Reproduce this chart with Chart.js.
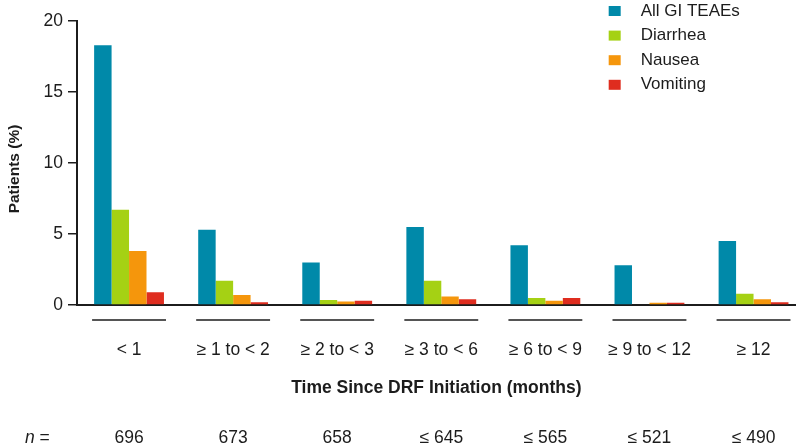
<!DOCTYPE html>
<html lang="en">
<head>
  <meta charset="UTF-8">
  <title>GI TEAEs by Time Since DRF Initiation</title>
  <script src="https://cdn.jsdelivr.net/npm/chart.js"></script>
  <style>
    html, body { margin: 0; padding: 0; background: #fff; }
    .chart-container { width: 797px; height: 448px; }
  </style>
</head>
<body>
  <div class="chart-container">
    <canvas id="myChart" width="797" height="448"></canvas>
  </div>

  <script>
    // Data
    const categories = ['< 1', '≥ 1 to < 2', '≥ 2 to < 3', '≥ 3 to < 6', '≥ 6 to < 9', '≥ 9 to < 12', '≥ 12'];
    const nValues = ['696', '673', '658', '≤ 645', '≤ 565', '≤ 521', '≤ 490'];
    const seriesNames = ['All GI TEAEs', 'Diarrhea', 'Nausea', 'Vomiting'];
    const allGiTeaes = [18.3, 5.3, 3.0, 5.5, 4.2, 2.8, 4.5];
    const diarrhea = [6.7, 1.7, 0.35, 1.7, 0.5, 0.0, 0.8];
    const nausea = [3.8, 0.7, 0.25, 0.6, 0.3, 0.15, 0.4];
    const vomiting = [0.9, 0.2, 0.3, 0.4, 0.5, 0.15, 0.2];
    const yTicks = [0, 5, 10, 15, 20];

    const seriesValues = [allGiTeaes, diarrhea, nausea, vomiting];
    const colors = ['#0089a9', '#a5d114', '#f5960c', '#df2d1f'];
    const ink = '#1c1c1c';
    const family = "'Liberation Sans', Arial, sans-serif";

    Chart.defaults.font.family = family;
    Chart.defaults.color = ink;

    // y title, underlines, "n =" row and legend are drawn here
    const extras = {
      id: 'extras',
      afterDraw(chart) {
        const { ctx, chartArea } = chart;
        const x = chart.scales.x;
        ctx.save();

        // y axis title (sits a bit below the axis middle in the original)
        ctx.save();
        ctx.translate(14.5, 169);
        ctx.rotate(-Math.PI / 2);
        ctx.fillStyle = ink;
        ctx.font = 'bold 15.5px ' + family;
        ctx.textAlign = 'center';
        ctx.textBaseline = 'middle';
        ctx.fillText('Patients (%)', 0, 0);
        ctx.restore();

        // short rules under each group
        ctx.strokeStyle = ink;
        ctx.lineWidth = 1.5;
        categories.forEach((c, i) => {
          const xa = x.getPixelForValue(i - 0.355);
          const xb = x.getPixelForValue(i + 0.355);
          ctx.beginPath();
          ctx.moveTo(xa, x.top + 15);
          ctx.lineTo(xb, x.top + 15);
          ctx.stroke();
        });

        // n row
        const ny = x.bottom - 10;
        ctx.fillStyle = ink;
        ctx.textBaseline = 'middle';
        ctx.textAlign = 'left';
        ctx.font = 'italic 17.5px ' + family;
        ctx.fillText('n', 25, ny);
        const nw = ctx.measureText('n').width;
        ctx.font = '17.5px ' + family;
        ctx.fillText(' =', 25 + nw, ny);
        ctx.textAlign = 'center';
        nValues.forEach((v, i) => ctx.fillText(v, x.getPixelForValue(i), ny));

        // legend
        ctx.textAlign = 'left';
        ctx.font = '17px ' + family;
        chart.data.datasets.forEach((ds, k) => {
          const cy = chartArea.top - 10 + k * 24.6;
          ctx.fillStyle = ds.backgroundColor;
          ctx.fillRect(chartArea.right - 187, cy - 5, 12, 10);
          ctx.fillStyle = ink;
          ctx.fillText(ds.label, chartArea.right - 155, cy);
        });
        ctx.restore();
      }
    };

    const ctx = document.getElementById('myChart').getContext('2d');
    const myChart = new Chart(ctx, {
      type: 'bar',
      data: {
        datasets: seriesNames.map((name, k) => ({
          label: name,
          data: seriesValues[k].map((v, i) => ({ x: i, y: v })),
          backgroundColor: colors[k],
          borderWidth: 0,
          categoryPercentage: 0.671,
          barPercentage: 1
        }))
      },
      options: {
        responsive: false,
        animation: false,
        devicePixelRatio: 1,
        layout: { padding: { top: 21, right: 0, bottom: 0, left: 0 } },
        plugins: {
          legend: { display: false },
          tooltip: { enabled: false }
        },
        scales: {
          x: {
            type: 'linear',
            min: -0.5,
            max: 6.405,
            offset: false,
            afterBuildTicks: (s) => { s.ticks = categories.map((c, i) => ({ value: i })); },
            afterFit: (s) => { s.height = 143; },
            border: { display: true, color: ink, width: 2 },
            grid: { display: false },
            ticks: {
              callback: (v) => categories[v],
              font: { size: 17.5 },
              padding: 26.5,
              maxRotation: 0,
              autoSkip: false
            },
            title: {
              display: true,
              text: 'Time Since DRF Initiation (months)',
              font: { size: 17.5, weight: 'bold' },
              padding: { top: 0, bottom: 49.5 }
            }
          },
          y: {
            min: 0,
            max: 20,
            afterBuildTicks: (s) => { s.ticks = yTicks.map((v) => ({ value: v })); },
            afterFit: (s) => { s.width = 77; },
            border: { display: true, color: ink, width: 2 },
            grid: { drawOnChartArea: false, drawTicks: true, tickLength: 9, color: ink, lineWidth: 1.5 },
            ticks: { font: { size: 17.5 }, padding: 5 }
          }
        }
      },
      plugins: [extras]
    });
  </script>
</body>
</html>
